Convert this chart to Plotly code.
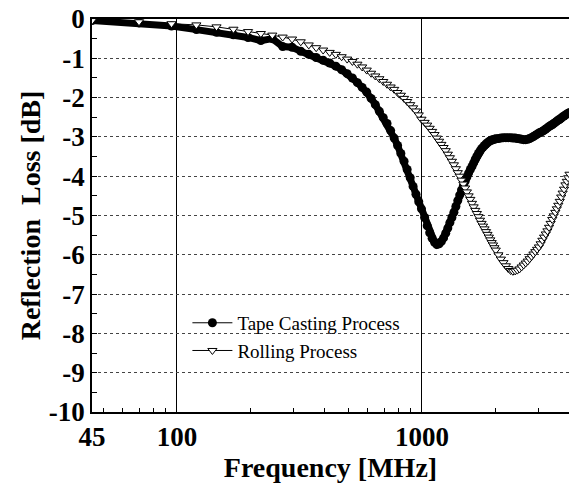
import plotly.graph_objects as go

# Frequency sweep points [MHz]
freq = [45, 70, 95, 120, 145, 170, 195, 220, 245, 270, 295, 320, 345, 370, 395,
        420, 445, 470, 495, 520, 545, 570, 595, 620, 645, 670, 695, 720, 745, 770,
        795, 820, 845, 870, 895, 920, 945, 970, 995,
        1025, 1050, 1075, 1100, 1125, 1150, 1175, 1200, 1225, 1250, 1275, 1300,
        1325, 1350, 1375, 1400, 1425, 1450, 1475, 1500, 1525, 1550, 1575, 1600,
        1625, 1650, 1675, 1700, 1725, 1750, 1775, 1800, 1825, 1850, 1875, 1900,
        1925, 1950, 1975, 2000,
        2050, 2100, 2150, 2200, 2250, 2300, 2350, 2400, 2450, 2500, 2550, 2600,
        2650, 2700, 2750, 2800, 2850, 2900, 2950, 3000, 3050, 3100, 3150, 3200,
        3250, 3300, 3350, 3400, 3450, 3500, 3550, 3600, 3650, 3700, 3750, 3800,
        3850, 3900, 3950, 4000]

# Reflection loss [dB] - Tape Casting Process
tape = [-0.04, -0.10, -0.18, -0.27, -0.34, -0.40, -0.47, -0.55, -0.50, -0.70,
        -0.72, -0.82, -0.90, -0.98, -1.05, -1.12, -1.20, -1.29, -1.39, -1.50,
        -1.62, -1.74, -1.86, -2.02, -2.18, -2.35, -2.51, -2.66, -2.84, -3.03,
        -3.22, -3.42, -3.62, -3.83, -4.04, -4.26, -4.46, -4.65, -4.83,
        -5.05, -5.26, -5.44, -5.58, -5.68, -5.74, -5.72, -5.66, -5.57, -5.45,
        -5.32, -5.18, -5.05, -4.92, -4.77, -4.62, -4.48, -4.35, -4.24, -4.13,
        -4.02, -3.92, -3.83, -3.75, -3.66, -3.57, -3.49, -3.42, -3.36, -3.30,
        -3.26, -3.22, -3.18, -3.15, -3.12, -3.10, -3.08, -3.07, -3.06, -3.05,
        -3.04, -3.03, -3.02, -3.02, -3.02, -3.02, -3.03, -3.03, -3.04, -3.05,
        -3.06, -3.07, -3.07, -3.06, -3.04, -3.02, -2.99, -2.96, -2.93, -2.90,
        -2.88, -2.86, -2.83, -2.80, -2.77, -2.74, -2.71, -2.69, -2.66, -2.63,
        -2.60, -2.57, -2.55, -2.52, -2.49, -2.47, -2.44, -2.42, -2.40, -2.38]

# Reflection loss [dB] - Rolling Process
rolling = [-0.04, -0.07, -0.12, -0.15, -0.20, -0.26, -0.32, -0.37, -0.41, -0.46,
           -0.51, -0.58, -0.66, -0.73, -0.79, -0.85, -0.90, -0.96, -1.02, -1.08,
           -1.15, -1.22, -1.30, -1.38, -1.45, -1.52, -1.59, -1.66, -1.73, -1.79,
           -1.87, -1.94, -2.02, -2.10, -2.18, -2.26, -2.34, -2.44, -2.55,
           -2.63, -2.70, -2.78, -2.86, -2.94, -3.03, -3.11, -3.19, -3.27, -3.35,
           -3.44, -3.53, -3.62, -3.71, -3.81, -3.91, -4.00, -4.10, -4.20, -4.30,
           -4.40, -4.50, -4.59, -4.69, -4.78, -4.87, -4.95, -5.03, -5.12, -5.20,
           -5.27, -5.34, -5.41, -5.48, -5.55, -5.62, -5.69, -5.75, -5.82, -5.88,
           -6.00, -6.11, -6.20, -6.28, -6.35, -6.40, -6.42, -6.41, -6.39, -6.36,
           -6.31, -6.26, -6.21, -6.16, -6.10, -6.04, -5.98, -5.92, -5.86, -5.80,
           -5.72, -5.63, -5.55, -5.47, -5.39, -5.30, -5.20, -5.10, -5.01, -4.92,
           -4.83, -4.74, -4.64, -4.53, -4.43, -4.33, -4.22, -4.13, -4.04, -3.95]

x_tick_vals = [45, 100, 1000]
x_tick_text = ["45", "100", "1000"]
x_minor_vals = [50, 60, 70, 80, 90, 200, 300, 400, 500, 600, 700, 800, 900, 2000, 3000]
y_tick_vals = [0, -1, -2, -3, -4, -5, -6, -7, -8, -9, -10]
y_minor_vals = [-0.5, -1.5, -2.5, -3.5, -4.5, -5.5, -6.5, -7.5, -8.5, -9.5]

SERIF = "Liberation Serif"

fig = go.Figure()
# dense measured band of the tape-cast sample (markers overlap into a thick trace)
fig.add_trace(go.Scatter(
    x=freq, y=tape, mode="lines", showlegend=False, hoverinfo="skip",
    line=dict(color="black", width=7),
))
fig.add_trace(go.Scatter(
    x=freq, y=tape, mode="lines+markers", name="Tape Casting Process",
    line=dict(color="black", width=1),
    marker=dict(symbol="circle", size=9, color="black"),
))
fig.add_trace(go.Scatter(
    x=freq, y=rolling, mode="lines+markers", name="Rolling Process",
    line=dict(color="black", width=1),
    marker=dict(symbol="triangle-down", size=8, color="white",
                line=dict(color="black", width=1)),
))

fig.update_layout(
    width=569, height=486,
    margin=dict(l=92, r=0, t=19, b=74),
    paper_bgcolor="white", plot_bgcolor="white",
    font=dict(family=SERIF, color="black"),
    showlegend=True,
    legend=dict(x=0.2, y=0.275, xanchor="left", yanchor="top",
                bgcolor="rgba(0,0,0,0)", borderwidth=0,
                font=dict(family=SERIF, size=19, color="black"),
                itemwidth=40, tracegroupgap=0),
)

fig.update_xaxes(
    type="log", range=[1.6532, 3.6], automargin=False,
    tickmode="array", tickvals=x_tick_vals, ticktext=x_tick_text,
    tickfont=dict(family=SERIF, size=27, color="black", weight="bold"),
    ticks="inside", ticklen=5, tickcolor="black",
    showgrid=True, gridcolor="black", gridwidth=1,
    minor=dict(tickmode="array", tickvals=x_minor_vals, ticks="inside",
               ticklen=4, tickcolor="black", showgrid=False),
    showline=True, linecolor="black", linewidth=2, mirror=True,
    zeroline=False,
    title=dict(text="Frequency [MHz]", standoff=0,
               font=dict(family=SERIF, size=28, color="black", weight="bold")),
)

fig.update_yaxes(
    range=[-10, 0], automargin=False,
    tickmode="array", tickvals=y_tick_vals, ticktext=[str(v) for v in y_tick_vals],
    tickfont=dict(family=SERIF, size=27, color="black", weight="bold"),
    ticks="inside", ticklen=5, tickcolor="black",
    showgrid=True, gridcolor="#444444", gridwidth=1, griddash="dot",
    minor=dict(tickmode="array", tickvals=y_minor_vals, ticks="inside",
               ticklen=5, tickcolor="black", showgrid=False),
    showline=True, linecolor="black", linewidth=1.5,
    zeroline=False,
    title=dict(text="Reflection  Loss [dB]", standoff=0,
               font=dict(family=SERIF, size=28, color="black", weight="bold")),
)

# remove the browser's default 8px page margin so the figure fills the window
fig.write_html("out.html", config={"displayModeBar": False},
               post_script="document.body.style.margin='0';")
